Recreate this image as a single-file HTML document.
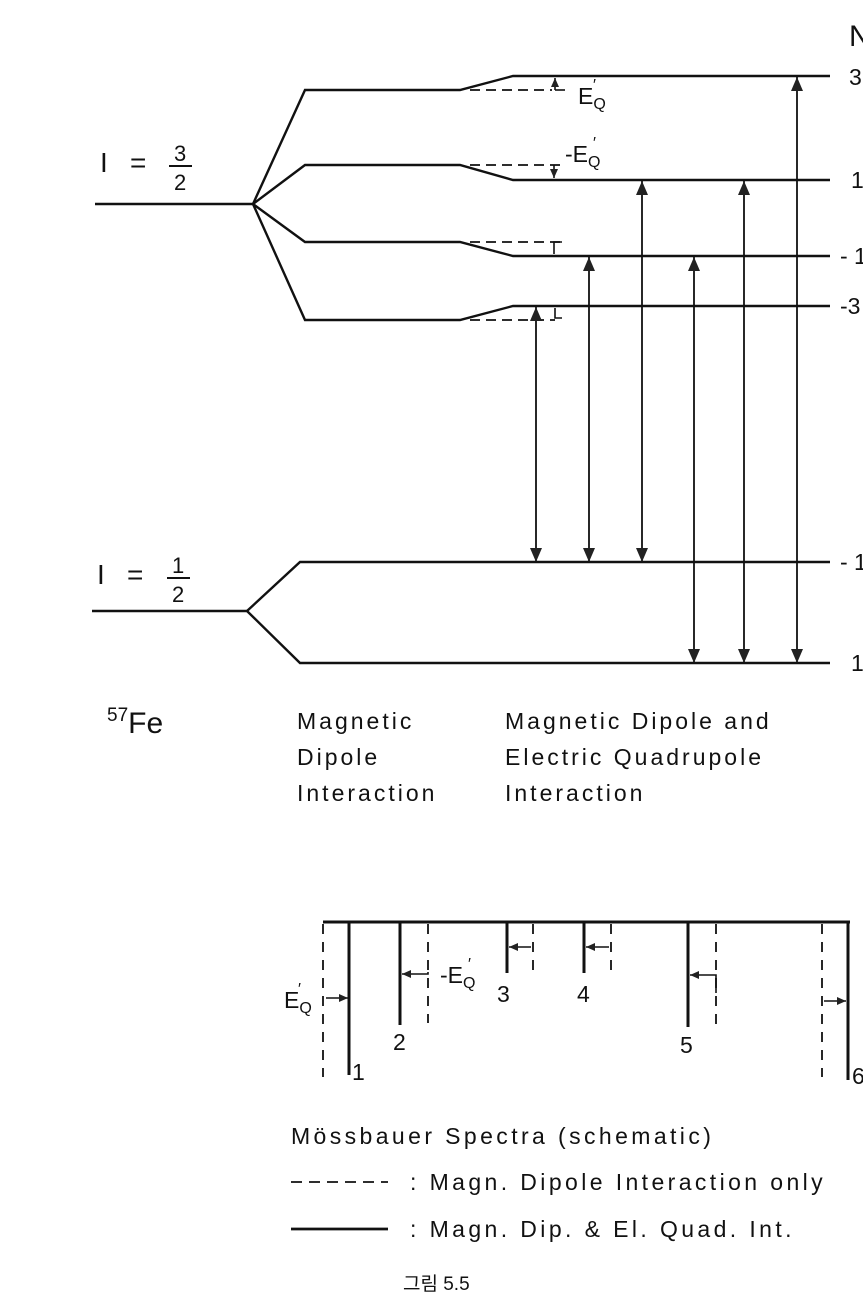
<!DOCTYPE html>
<html><head><meta charset="utf-8"><style>
html,body{margin:0;padding:0;background:#fff;}
svg{display:block;}
text{font-family:"Liberation Sans","Noto Sans CJK KR",sans-serif;fill:#111;}
</style></head><body>
<svg width="863" height="1303" viewBox="0 0 863 1303" xmlns="http://www.w3.org/2000/svg">
<defs>
<marker id="ah" markerWidth="14" markerHeight="12" refX="14" refY="6" orient="auto-start-reverse" markerUnits="userSpaceOnUse" viewBox="0 0 14 12">
<path d="M0,0 L14,6 L0,12 Z" fill="#222"/></marker>
<marker id="sh" markerWidth="9" markerHeight="8" refX="9" refY="4" orient="auto" markerUnits="userSpaceOnUse" viewBox="0 0 9 8">
<path d="M0,0 L9,4 L0,8 Z" fill="#222"/></marker>
</defs>
<g stroke="#111" stroke-width="2.4" fill="none">
<line x1="95" y1="204" x2="253" y2="204"/>
<path d="M253,204 L305,90 L460,90 L513,76 L830,76"/>
<path d="M253,204 L305,165 L460,165 L513,180 L830,180"/>
<path d="M253,204 L305,242 L460,242 L513,256 L830,256"/>
<path d="M253,204 L305,320 L460,320 L513,306 L830,306"/>
<line x1="92" y1="611" x2="247" y2="611"/>
<path d="M247,611 L300,562 L830,562"/>
<path d="M247,611 L300,663 L830,663"/>
</g>
<g stroke="#111" stroke-width="1.8" fill="none" stroke-dasharray="10,6">
<line x1="470" y1="90" x2="552" y2="90"/>
<line x1="470" y1="165" x2="565" y2="165"/>
<line x1="470" y1="242" x2="565" y2="242"/>
<line x1="470" y1="320" x2="555" y2="320"/>
</g>
<g stroke="#111" stroke-width="1.6" fill="none">
<line x1="555" y1="90" x2="555" y2="78" marker-end="url(#sh)"/>
<line x1="555" y1="90" x2="565" y2="90"/>
<line x1="554" y1="165" x2="554" y2="178" marker-end="url(#sh)"/>
<path d="M562,242 L554,242 L554,254"/>
<path d="M562,318 L555,318 L555,308"/>
</g>
<g stroke="#111" stroke-width="1.8" marker-start="url(#ah)" marker-end="url(#ah)">
<line x1="536" y1="562" x2="536" y2="307"/>
<line x1="589" y1="562" x2="589" y2="257"/>
<line x1="642" y1="562" x2="642" y2="181"/>
<line x1="694" y1="663" x2="694" y2="257"/>
<line x1="744" y1="663" x2="744" y2="181"/>
<line x1="797" y1="663" x2="797" y2="77"/>
</g>
<g font-size="23">
<text x="578" y="104">E<tspan font-size="16" dy="5">Q</tspan></text>
<text x="593" y="90" font-size="16">′</text>
<text x="565" y="162">-E<tspan font-size="16" dy="5">Q</tspan></text>
<text x="593" y="148" font-size="16">′</text>
</g>
<g font-size="23">
<text x="849" y="46" font-size="30">N</text>
<text x="849" y="85">3</text>
<text x="851" y="188">1</text>
<text x="840" y="264">- 1</text>
<text x="840" y="314">-3</text>
<text x="840" y="570">- 1</text>
<text x="851" y="671">1</text>
</g>
<g font-size="28">
<text x="100" y="172" font-family="Liberation Serif">I</text>
<text x="130" y="172">=</text>
<text x="174" y="161" font-size="22">3</text>
<line x1="169" y1="166" x2="192" y2="166" stroke="#111" stroke-width="2"/>
<text x="174" y="190" font-size="22">2</text>
<text x="97" y="584" font-family="Liberation Serif">I</text>
<text x="127" y="584">=</text>
<text x="172" y="573" font-size="22">1</text>
<line x1="167" y1="578" x2="190" y2="578" stroke="#111" stroke-width="2"/>
<text x="172" y="602" font-size="22">2</text>
</g>
<text x="107" y="733" font-size="30"><tspan font-size="19" dy="-12">57</tspan><tspan dy="12">Fe</tspan></text>
<g font-size="23" letter-spacing="3">
<text x="297" y="729">Magnetic</text>
<text x="297" y="765">Dipole</text>
<text x="297" y="801">Interaction</text>
<text x="505" y="729">Magnetic  Dipole  and</text>
<text x="505" y="765">Electric  Quadrupole</text>
<text x="505" y="801">Interaction</text>
</g>
<g stroke="#111" stroke-width="3" fill="none">
<line x1="323" y1="922" x2="850" y2="922"/>
<line x1="349" y1="922" x2="349" y2="1075"/>
<line x1="400" y1="922" x2="400" y2="1025"/>
<line x1="507" y1="922" x2="507" y2="973"/>
<line x1="584" y1="922" x2="584" y2="973"/>
<line x1="688" y1="922" x2="688" y2="1027"/>
<line x1="848" y1="922" x2="848" y2="1080"/>
</g>
<g stroke="#111" stroke-width="1.8" stroke-dasharray="10,8" fill="none">
<line x1="323" y1="924" x2="323" y2="1077"/>
<line x1="428" y1="924" x2="428" y2="1023"/>
<line x1="533" y1="924" x2="533" y2="973"/>
<line x1="611" y1="924" x2="611" y2="973"/>
<line x1="716" y1="924" x2="716" y2="1027"/>
<line x1="822" y1="924" x2="822" y2="1077"/>
</g>
<g stroke="#111" stroke-width="1.6" fill="none">
<line x1="326" y1="998" x2="348" y2="998" marker-end="url(#sh)"/>
<path d="M428,972 L428,974 L402,974" marker-end="url(#sh)"/>
<line x1="531" y1="947" x2="509" y2="947" marker-end="url(#sh)"/>
<line x1="609" y1="947" x2="586" y2="947" marker-end="url(#sh)"/>
<path d="M716,993 L716,975 L690,975" marker-end="url(#sh)"/>
<line x1="824" y1="1001" x2="846" y2="1001" marker-end="url(#sh)"/>
</g>
<g font-size="23">
<text x="284" y="1008">E<tspan font-size="16" dy="5">Q</tspan></text>
<text x="298" y="994" font-size="16">′</text>
<text x="440" y="983">-E<tspan font-size="16" dy="5">Q</tspan></text>
<text x="468" y="969" font-size="16">′</text>
<text x="497" y="1002">3</text>
<text x="577" y="1002">4</text>
<text x="393" y="1050">2</text>
<text x="352" y="1080">1</text>
<text x="680" y="1053">5</text>
<text x="852" y="1084">6</text>
</g>
<g font-size="23" letter-spacing="3.4">
<text x="291" y="1144">Mössbauer Spectra (schematic)</text>
<text x="410" y="1190">:  Magn. Dipole Interaction only</text>
<text x="410" y="1237">:  Magn. Dip. &amp; El. Quad. Int.</text>
</g>
<line x1="291" y1="1182" x2="388" y2="1182" stroke="#111" stroke-width="1.8" stroke-dasharray="11,7"/>
<line x1="291" y1="1229" x2="388" y2="1229" stroke="#111" stroke-width="2.8"/>
<text x="403" y="1290" font-size="19">그림 5.5</text>
</svg>
</body></html>
